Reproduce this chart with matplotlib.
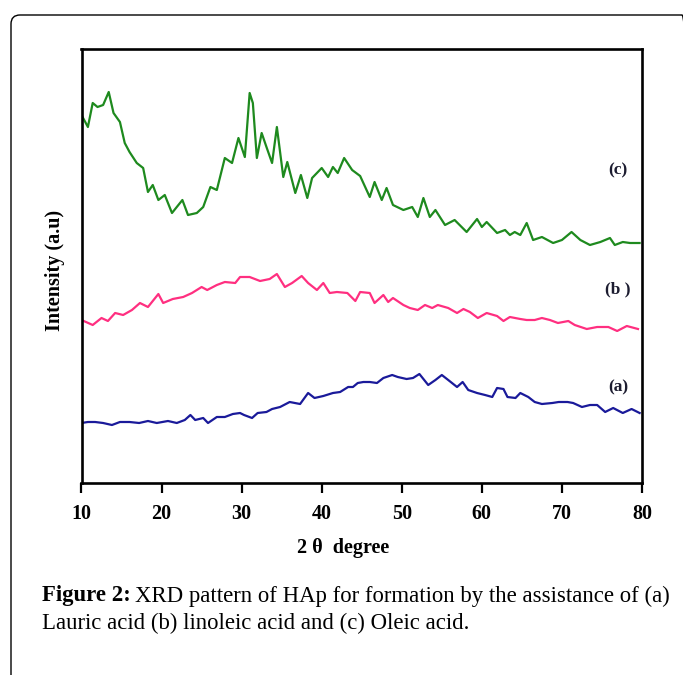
import matplotlib
matplotlib.use("Agg")
import matplotlib.pyplot as plt
from matplotlib.patches import FancyBboxPatch
from matplotlib.transforms import IdentityTransform

# ---------------- data (2theta in degrees, intensity in arbitrary units) -------------
x_c = [10.0, 10.8, 11.4, 12.0, 12.7, 13.4, 14.0, 14.8, 15.4, 16.0, 16.9, 17.7, 18.3, 18.9,
       19.6, 20.4, 21.3, 22.6, 23.3, 24.4, 25.2, 26.1, 26.9, 27.9, 28.8, 29.6, 30.4, 31.0,
       31.4, 31.9, 32.5, 33.1, 33.8, 34.4, 35.2, 35.7, 36.7, 37.4, 38.2, 38.8, 40.0, 40.8,
       41.4, 42.0, 42.8, 43.8, 44.8, 46.0, 46.6, 47.5, 48.1, 48.9, 50.2, 51.3, 52.0, 52.7,
       53.5, 54.2, 55.4, 56.6, 58.1, 59.4, 60.0, 60.6, 61.9, 62.9, 63.5, 64.1, 64.8, 65.6,
       66.4, 67.5, 68.9, 70.0, 71.2, 72.3, 73.5, 74.8, 76.0, 76.6, 77.6, 78.5, 79.7]
y_c = [368, 356, 380, 376, 378, 391, 370, 361, 340, 331, 320, 315, 291, 298,
       283, 288, 270, 283, 268, 270, 276, 296, 293, 325, 320, 345, 326, 390,
       380, 325, 350, 336, 320, 356, 306, 321, 290, 308, 285, 305, 315, 306,
       316, 310, 325, 313, 307, 286, 301, 283, 295, 278, 273, 276, 266, 285,
       266, 273, 258, 263, 251, 264, 256, 261, 250, 253, 248, 251, 248, 260,
       243, 246, 240, 243, 251, 243, 238, 241, 245, 238, 241, 240, 240]

x_b = [10.0, 11.4, 12.5, 13.3, 14.2, 15.2, 16.3, 17.3, 18.3, 19.6, 20.2, 21.4, 22.7, 23.8,
       25.0, 25.7, 26.9, 27.9, 29.2, 29.8, 31.0, 32.3, 33.5, 34.4, 35.4, 36.3, 37.5, 38.3,
       39.4, 40.2, 41.0, 41.9, 43.2, 44.2, 44.8, 46.0, 46.6, 47.7, 48.3, 48.9, 50.2, 51.0,
       52.0, 52.9, 53.8, 54.5, 55.8, 56.9, 57.7, 58.5, 59.5, 60.6, 61.9, 62.7, 63.5, 64.8,
       65.6, 66.6, 67.5, 68.5, 69.5, 70.8, 71.6, 73.1, 74.4, 75.8, 76.9, 78.1, 79.5]
y_b = [163, 158, 165, 162, 170, 168, 173, 180, 176, 189, 180, 184, 186, 190,
       196, 193, 198, 201, 200, 206, 206, 202, 204, 209, 196, 200, 207, 200,
       193, 200, 190, 191, 190, 182, 191, 190, 180, 188, 181, 185, 178, 175,
       173, 178, 175, 178, 175, 170, 174, 171, 165, 170, 167, 162, 166, 164,
       163, 163, 165, 163, 160, 162, 158, 154, 156, 156, 152, 157, 154]

x_a = [10.0, 10.8, 11.7, 12.7, 13.8, 14.8, 16.0, 17.2, 18.3, 19.4, 20.8, 21.9, 22.9, 23.6,
       24.2, 25.2, 25.8, 26.9, 27.9, 28.9, 29.8, 30.3, 31.3, 32.0, 33.1, 33.8, 34.8, 36.0,
       37.3, 38.3, 39.1, 40.2, 41.4, 42.3, 43.3, 43.9, 44.5, 45.2, 46.0, 46.9, 47.7, 48.8,
       49.5, 50.6, 51.4, 52.2, 53.3, 54.2, 55.0, 55.8, 56.9, 57.6, 58.3, 59.4, 60.4, 61.3,
       61.9, 62.7, 63.2, 64.2, 64.8, 65.8, 66.6, 67.5, 68.8, 69.6, 70.7, 71.4, 72.5, 73.5,
       74.4, 75.4, 76.4, 77.6, 78.7, 79.7]
y_a = [60, 61, 61, 60, 58, 61, 61, 60, 62, 60, 62, 60, 63, 68,
       63, 65, 60, 66, 66, 69, 70, 68, 65, 70, 71, 74, 76, 81,
       79, 90, 85, 87, 90, 91, 96, 96, 100, 101, 101, 100, 105, 108,
       106, 104, 105, 109, 98, 103, 108, 103, 96, 101, 93, 90, 88, 86,
       95, 94, 86, 85, 90, 86, 81, 79, 80, 81, 81, 80, 76, 78,
       78, 71, 75, 70, 74, 70]

labels = ["(a)", "(b )", "(c)"]
label_y = [96, 194, 313]
xticks = [10, 20, 30, 40, 50, 60, 70, 80]

# ---------------- figure ----------------
W, H = 683, 675
fig = plt.figure(figsize=(W / 100, H / 100), dpi=100)
fig.patch.set_facecolor("white")

ax = fig.add_axes([81.5 / W, 1 - 483 / H, (642 - 81.5) / W, (483 - 49) / H])
ax.plot(x_c, y_c, color="#1e8a1e", lw=1.6)
ax.plot(x_b, y_b, color="#ff2f80", lw=1.6)
ax.plot(x_a, y_a, color="#1a1a9a", lw=1.6)

ax.set_xlim(10, 80)
ax.set_ylim(0, 434)
ax.set_xticks(xticks)
ax.set_xticklabels([str(t) for t in xticks], fontfamily="Liberation Serif",
                   fontweight="bold", fontsize=14.5)
ax.set_yticks([])
ax.tick_params(axis="x", direction="out", length=7, width=1.6, pad=8)
for s in ax.spines.values():
    s.set_linewidth(1.9)

for lab, yv in zip(labels, label_y):
    ax.text(77.0, yv, lab, ha="center", va="center", fontfamily="Liberation Serif",
            fontweight="bold", fontsize=12.5, color="#1c1c30")

fig.text(343 / W, 1 - 548 / H, "2 θ  degree", ha="center", va="center",
         fontfamily="Liberation Serif", fontweight="bold", fontsize=14.5)
fig.text(55 / W, 1 - 270 / H, "Intensity (a.u)", ha="center", va="center",
         rotation=90, fontfamily="Liberation Serif", fontweight="bold", fontsize=14.5)

# caption
cap_fs = 16.4
t1 = fig.text(42 / W, 1 - 596 / H, "Figure 2:", ha="left", va="center",
              fontfamily="Liberation Serif", fontweight="bold", fontsize=cap_fs)
ax.annotate("XRD pattern of HAp for formation by the assistance of (a)",
            xy=(1, 0.5), xycoords=t1, xytext=(3, 0), textcoords="offset points",
            ha="left", va="center", fontfamily="Liberation Serif", fontsize=cap_fs,
            annotation_clip=False)
fig.text(42 / W, 1 - 623 / H, "Lauric acid (b) linoleic acid and (c) Oleic acid.",
         ha="left", va="center", fontfamily="Liberation Serif", fontsize=cap_fs)

# rounded frame
frame = FancyBboxPatch((11, -30), 680, H - 15 + 30,
                       boxstyle="round,pad=0,rounding_size=9",
                       transform=IdentityTransform(), fill=False,
                       edgecolor="black", linewidth=1.0)
fig.add_artist(frame)

fig.savefig("out.png", dpi=100, facecolor="white")
